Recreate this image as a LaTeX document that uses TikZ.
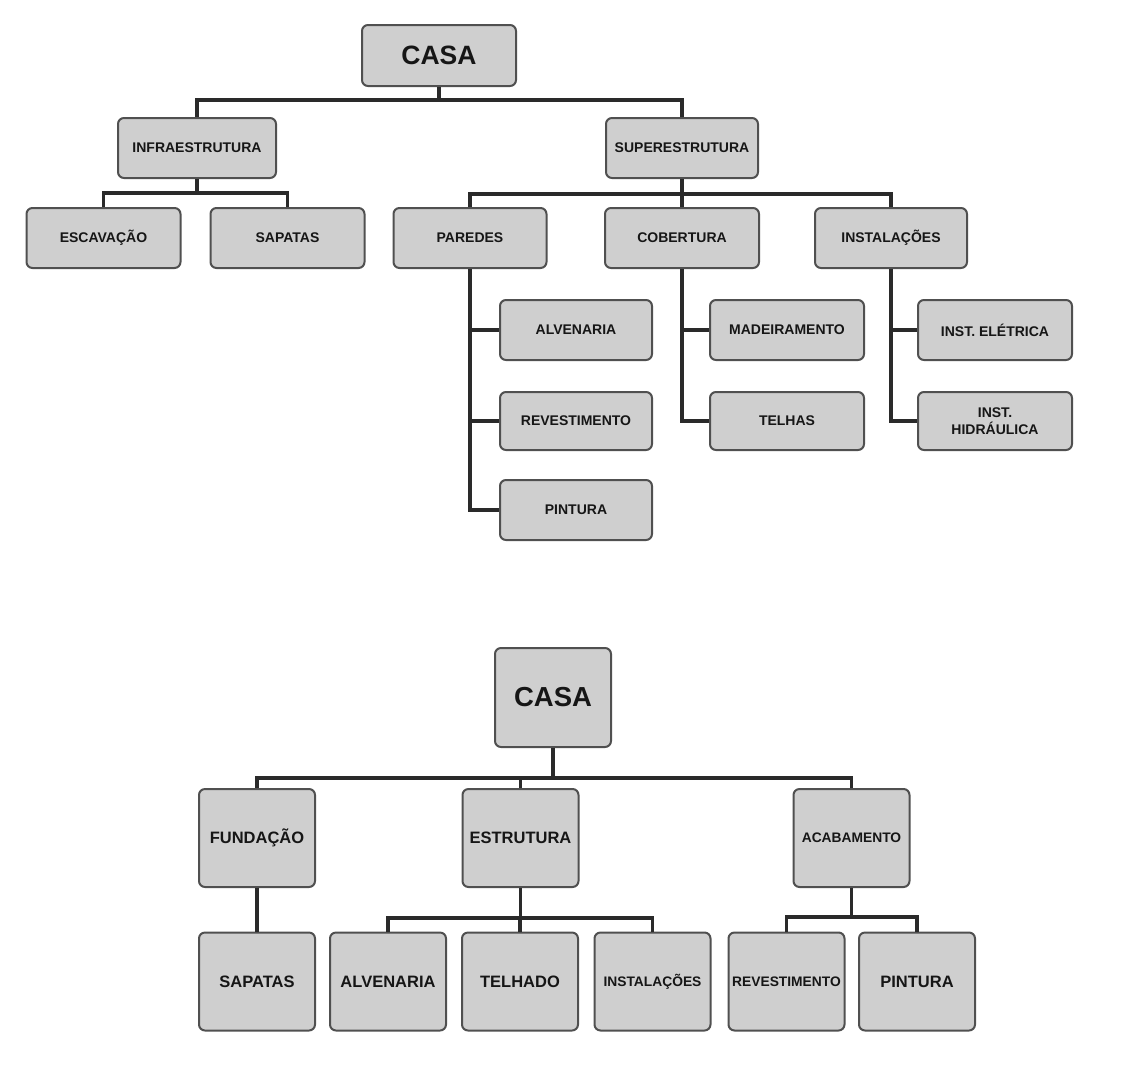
\documentclass[tikz,border=0pt]{standalone}
\usepackage{fontspec}
\setmainfont{Liberation Sans}
\definecolor{wbsFill}{HTML}{CFCFCF}
\definecolor{wbsEdge}{HTML}{505050}
\definecolor{wbsLink}{HTML}{2A2A2A}
\definecolor{wbsInk}{HTML}{161616}

\begin{document}
\begin{tikzpicture}[
  x=1pt, y=-1pt, text=wbsInk,
  wbs box/.style={draw=wbsEdge,fill=wbsFill,line width=2pt,rounded corners=6pt,
    inner sep=0pt,align=center,font=\fontsize{14}{17}\selectfont\bfseries},
  wbs top/.style={wbs box,minimum width=154,minimum height=60},
  wbs low/.style={wbs box,minimum width=116,minimum height=98,font=\fontsize{16.5}{16}\selectfont\bfseries},
  wbs tight/.style={font=\fontsize{13.8}{14}\selectfont\bfseries},
  wbs link/.style={draw=wbsLink,line width=3.2pt}
]
% Page frame, in pixels of the reference.
\fill[white] (0,0) rectangle (1123,1077);
\useasboundingbox (0,0) rectangle (1123,1077);

% First breakdown.
\node[wbs top,minimum height=61,font=\fontsize{26.5}{26}\selectfont\bfseries] (casaA) at (439,55.5) {CASA};
\node[wbs top,minimum width=158] (infra) at (197,148) {INFRAESTRUTURA};
\node[wbs top,minimum width=152] (super) at (682,148) {SUPERESTRUTURA};
\node[wbs top] (escav) at (103.5,238) {ESCAVAÇÃO};
\node[wbs top] (sapA) at (287.5,238) {SAPATAS};
\node[wbs top,minimum width=153] (paredes) at (470,238) {PAREDES};
\node[wbs top] (cobert) at (682,238) {COBERTURA};
\node[wbs top,minimum width=152] (instA) at (891,238) {INSTALAÇÕES};
\node[wbs top,minimum width=152] (alvA) at (576,330) {ALVENARIA};
\node[wbs top,minimum width=152,minimum height=58] (revA) at (576,421) {REVESTIMENTO};
\node[wbs top,minimum width=152] (pintA) at (576,510) {PINTURA};
\node[wbs top] (madeir) at (787,330) {MADEIRAMENTO};
\node[wbs top,minimum height=58] (telhas) at (787,421) {TELHAS};
\node[wbs top] (eletr) at (995,330) {INST. ELÉTRICA};
\node[wbs top,minimum height=58] (hidr) at (995,421) {INST.\\HIDRÁULICA};

\foreach \kid in {infra,super}
  \draw[wbs link] (casaA.south) -- ++(0,13) -| (\kid.north);
\foreach \kid in {escav,sapA}
  \draw[wbs link] (infra.south) -- ++(0,14) -| (\kid.north);
\foreach \kid in {paredes,cobert,instA}
  \draw[wbs link] (super.south) -- ++(0,15) -| (\kid.north);
\foreach \kid in {alvA,revA,pintA}
  \draw[wbs link] (paredes.south) |- (\kid.west);
\foreach \kid in {madeir,telhas}
  \draw[wbs link] (cobert.south) |- (\kid.west);
\foreach \kid in {eletr,hidr}
  \draw[wbs link] (instA.south) |- (\kid.west);

% Second breakdown.
\node[wbs low,minimum height=99,font=\fontsize{27.5}{27}\selectfont\bfseries] (casaB) at (553,697.5) {CASA};
\node[wbs low] (fund) at (257,838) {FUNDAÇÃO};
\node[wbs low] (estr) at (520.5,838) {ESTRUTURA};
\node[wbs low,wbs tight] (acab) at (851.5,838) {ACABAMENTO};
\node[wbs low] (sapB) at (257,981.5) {SAPATAS};
\node[wbs low] (alvB) at (388,981.5) {ALVENARIA};
\node[wbs low] (telhado) at (520,981.5) {TELHADO};
\node[wbs low,wbs tight] (instB) at (652.5,981.5) {INSTALAÇÕES};
\node[wbs low,wbs tight] (revB) at (786.5,981.5) {REVESTIMENTO};
\node[wbs low] (pintB) at (917,981.5) {PINTURA};

\foreach \kid in {fund,estr,acab}
  \draw[wbs link] (casaB.south) -- ++(0,30) -| (\kid.north);
\draw[wbs link] (fund.south) -- (sapB.north);
\foreach \kid in {alvB,telhado,instB}
  \draw[wbs link] (estr.south) -- ++(0,30) -| (\kid.north);
\foreach \kid in {revB,pintB}
  \draw[wbs link] (acab.south) -- ++(0,29) -| (\kid.north);
\end{tikzpicture}
\end{document}
